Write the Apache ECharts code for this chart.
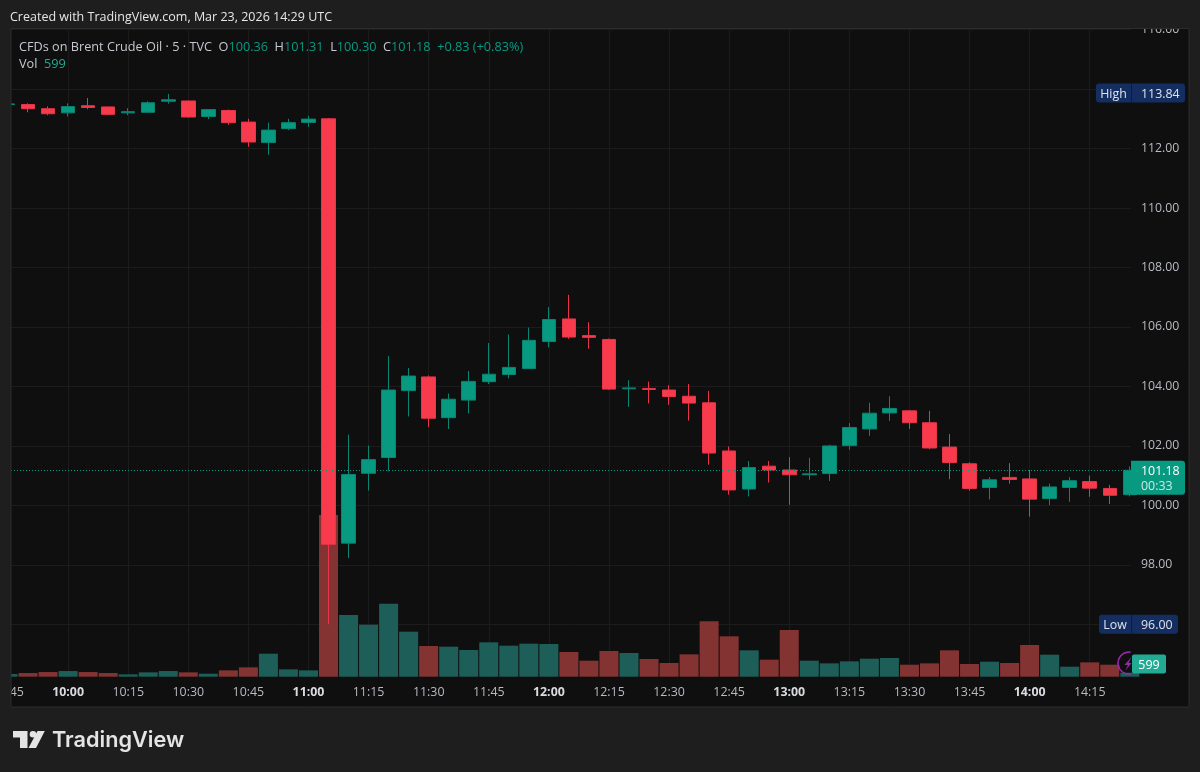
<!DOCTYPE html>
<html><head><meta charset="utf-8"><title>Brent</title>
<style>html,body{margin:0;padding:0;background:#1e1e1e}#c{width:1200px;height:772px}</style>
<script src="https://cdn.jsdelivr.net/npm/echarts@6/dist/echarts.min.js"></script></head>
<body><div id="c"></div><script>
const times=['09:45','09:50','09:55','10:00','10:05','10:10','10:15','10:20','10:25','10:30','10:35','10:40','10:45','10:50','10:55','11:00','11:05','11:10','11:15','11:20','11:25','11:30','11:35','11:40','11:45','11:50','11:55','12:00','12:05','12:10','12:15','12:20','12:25','12:30','12:35','12:40','12:45','12:50','12:55','13:00','13:05','13:10','13:15','13:20','13:25','13:30','13:35','13:40','13:45','13:50','13:55','14:00','14:05','14:10','14:15','14:20','14:25'];
const opens=[113.48,113.48,113.34,113.20,113.44,113.40,113.20,113.22,113.59,113.60,113.08,113.28,112.89,112.20,112.67,112.88,113.00,98.73,101.08,101.61,103.86,104.32,102.95,103.54,104.16,104.40,104.60,105.51,106.27,105.71,105.58,103.92,103.93,103.88,103.67,103.45,101.83,100.55,101.32,101.19,101.03,101.07,102.01,102.57,103.11,103.18,102.78,101.96,101.40,100.60,100.94,100.89,100.23,100.60,100.80,100.57,100.36];
const closes=[113.50,113.34,113.17,113.41,113.38,113.15,113.24,113.54,113.64,113.06,113.31,112.87,112.22,112.62,112.87,112.99,98.69,101.04,101.54,103.88,104.35,102.93,103.57,104.17,104.41,104.64,105.55,106.25,105.66,105.65,103.91,103.95,103.90,103.66,103.44,101.76,100.52,101.27,101.19,101.03,101.06,102.00,102.62,103.10,103.26,102.78,101.93,101.44,100.57,100.86,100.87,100.21,100.62,100.83,100.58,100.34,101.18];
const lows=[113.48,113.22,113.12,113.08,113.32,113.12,113.12,113.22,113.51,113.05,112.99,112.80,112.06,111.79,112.62,112.73,96.00,98.23,100.50,101.15,102.99,102.64,102.57,103.09,104.08,104.27,104.60,105.31,105.60,105.27,103.88,103.31,103.43,103.38,102.85,101.37,100.36,100.30,100.77,100.02,100.86,100.82,101.87,102.34,102.84,102.57,101.89,100.88,100.50,100.20,100.73,99.62,100.01,100.12,100.29,100.05,100.30];
const highs=[113.50,113.52,113.42,113.52,113.70,113.41,113.36,113.59,113.84,113.61,113.33,113.31,113.00,112.87,113.00,113.10,113.03,102.38,102.01,105.02,104.62,104.37,103.76,104.52,105.46,105.75,105.98,106.67,107.08,106.16,105.61,104.21,104.16,104.04,104.08,103.85,101.98,101.49,101.49,101.62,101.60,102.04,102.77,103.45,103.67,103.21,103.18,102.40,101.45,100.95,101.42,101.19,100.73,100.95,101.00,100.69,101.31];
const volumes=[400,550,700,850,700,550,350,650,850,650,450,950,1400,3450,1100,950,24250,9250,7800,10950,6750,4600,4500,4000,5150,4650,4950,4900,3700,2400,3850,3550,2650,2050,3350,8300,6050,3950,2550,7000,2400,2000,2300,2700,2800,1800,2000,3950,1900,2250,2050,4750,3300,1500,2150,1800,599];
const highMark=113.84, lowMark=96.00, lastPrice=101.18, countdown='00:33', lastVolume=599;
const title='Created with TradingView.com, Mar 23, 2026 14:29 UTC';
const symbolName='CFDs on Brent Crude Oil · 5 · TVC';
const changeText='+0.83 (+0.83%)';

const FONT='"Open Sans","Noto Sans",sans-serif';
const UP='#089981',DOWN='#F73B4C',VOLUP='#1d5f58',VOLDOWN='#843333',GRID='#1c1c1c',TXT='#b8bbc2';
const toMin=s=>{const[a,b]=s.split(':').map(Number);return a*60+b};
const pad=n=>String(n).padStart(2,'0');
const xs=times.map(toMin);
const candle=xs.map((x,i)=>[x,opens[i],closes[i],lows[i],highs[i]]);
const vols=xs.map((x,i)=>({value:[x,volumes[i]],itemStyle:{color:closes[i]>=opens[i]?VOLUP:VOLDOWN}}));
const xMin=585,xMax=865.3;
const el=document.getElementById('c');
const chart=echarts.init(el,null,{renderer:'canvas',width:1200,height:772});
const gridRect={left:8,right:69,outerBoundsMode:'none'};
chart.setOption({
 animation:false,backgroundColor:'#1e1e1e',textStyle:{fontFamily:FONT},
 grid:[{...gridRect,top:29.6,bottom:88.2},{...gridRect,top:29.6,bottom:95.3}],
 xAxis:[
  {type:'value',gridIndex:0,min:xMin,max:xMax,show:false,splitLine:{show:false},containShape:false},
  {type:'value',gridIndex:1,min:xMin,max:xMax,interval:15,z:1,containShape:false,
   axisLine:{show:false},axisTick:{show:false},
   splitLine:{show:true,showMinLine:false,showMaxLine:false,lineStyle:{color:GRID,width:1}},
   axisLabel:{showMaxLabel:false,showMinLabel:true,margin:10,fontSize:12.4,fontFamily:FONT,color:TXT,
    formatter:v=>{const h=Math.floor(v/60),m=v%60;return m===0?`{b|${pad(h)}:00}`:`${pad(h)}:${pad(Math.round(m))}`},
    rich:{b:{fontWeight:'bold',color:'#d9dbe0',fontSize:12.4,fontFamily:FONT}}}}
 ],
 yAxis:[
  {type:'value',gridIndex:0,position:'right',min:94,max:116,interval:2,z:1,
   axisLine:{show:false},axisTick:{show:false},
   splitLine:{show:true,showMinLine:false,lineStyle:{color:GRID,width:1}},
   axisLabel:{showMinLabel:false,margin:10,padding:[2,0,0,0],fontSize:12.3,fontFamily:FONT,color:TXT,formatter:v=>v.toFixed(2)}},
  {type:'value',gridIndex:1,min:0,max:97000,show:false,splitLine:{show:false}}
 ],
 series:[
  {type:'bar',name:'Vol',xAxisIndex:1,yAxisIndex:1,data:vols,barWidth:19,z:1,silent:true,clip:true},
  {type:'candlestick',name:'Brent',xAxisIndex:0,yAxisIndex:0,data:candle,barWidth:14,z:2,silent:true,clip:true,
   encode:{x:0,y:[1,2,3,4]},
   itemStyle:{color:UP,color0:DOWN,borderColor:'#0a8573',borderColor0:'#E8354A',borderWidth:1},
   markLine:{silent:true,symbol:'none',label:{show:false},animation:false,
    lineStyle:{type:[1,2],color:UP,width:1},data:[{yAxis:lastPrice}]}}
 ]
});
const py=v=>chart.convertToPixel({yAxisIndex:0},v);
const vy=v=>chart.convertToPixel({yAxisIndex:1},v);
const tag=(label,val,x0,x1,y)=>[
 {type:'rect',z:60,shape:{x:x0,y:y-9.5,width:x1-x0,height:19,r:3},style:{fill:'#142e61'}},
 {type:'rect',z:61,shape:{x:1131,y:y-9.5,width:1,height:19},style:{fill:'#0c1c3d'}},
 {type:'text',z:62,x:x0+(1131-x0)/2,y:y+1,style:{text:label,fill:'#dfe3ea',font:'12.4px '+FONT,align:'center',verticalAlign:'middle'}},
 {type:'text',z:62,x:1141,y:y+1,style:{text:val.toFixed(2),fill:'#dfe3ea',font:'12.4px '+FONT,align:'left',verticalAlign:'middle'}}];
const last=opens.length-1;
const lastY=py(lastPrice);
const volY=vy(lastVolume)-8.6;
chart.setOption({graphic:[
 {type:'rect',z:-10,silent:true,shape:{x:11,y:29,width:1178,height:678},style:{fill:'#0f0f0f'}},
 {type:'rect',z:50,shape:{x:0,y:0,width:1200,height:28.5},style:{fill:'#1e1e1e'}},
 {type:'rect',z:50,shape:{x:0,y:0,width:11,height:772},style:{fill:'#1e1e1e'}},
 {type:'rect',z:51,shape:{x:11,y:28.5,width:1178,height:678.5},style:{fill:'none',stroke:'#2c2c2c',lineWidth:1}},
 {type:'text',z:52,x:10,y:17.5,style:{text:title,fill:'#e6e6e6',font:'12.5px '+FONT,verticalAlign:'middle'}},
 {type:'text',z:52,x:19,y:47,style:{verticalAlign:'middle',font:'12.7px '+FONT,fill:'#c6c8ce',
   text:`${symbolName}  O{g|${opens[last].toFixed(2)}}  H{g|${highs[last].toFixed(2)}}  L{g|${lows[last].toFixed(2)}}  C{g|${closes[last].toFixed(2)}}  {g|${changeText}}`,
   rich:{g:{fill:UP,font:'12.7px '+FONT}}}},
 {type:'text',z:52,x:19,y:64,style:{verticalAlign:'middle',font:'12.7px '+FONT,fill:'#c6c8ce',text:`Vol  {g|${lastVolume}}`,rich:{g:{fill:'#22ab94',font:'12.7px '+FONT}}}},
 ...tag('High',highMark,1096,1185,py(highMark)-0.8),
 ...tag('Low',lowMark,1099,1178,py(lowMark)),
 {type:'rect',z:60,shape:{x:1131,y:lastY-9.5,width:54,height:34,r:[0,3,3,0]},style:{fill:UP}},
 {type:'text',z:62,x:1141,y:lastY+1,style:{text:lastPrice.toFixed(2),fill:'#ffffff',font:'12.4px '+FONT,verticalAlign:'middle'}},
 {type:'text',z:62,x:1141,y:lastY+16,style:{text:countdown,fill:'#cfe9e3',font:'12.4px '+FONT,verticalAlign:'middle'}},
 {type:'arc',z:55,shape:{cx:1129,cy:volY-1,r:11,startAngle:Math.PI*0.45,endAngle:Math.PI*1.55},style:{stroke:'#9c27b0',fill:'none',lineWidth:1.5}},
 {type:'polygon',z:55,shape:{points:[[1131.5,657],[1124.5,665],[1128,665],[1125,671],[1131.5,663],[1128.5,663]]},style:{fill:'#9c27b0'}},
 {type:'rect',z:60,shape:{x:1132,y:volY-9.5,width:34,height:19,r:2},style:{fill:'#22ab94'}},
 {type:'text',z:62,x:1149,y:volY+1,style:{text:String(lastVolume),fill:'#ffffff',font:'12.4px '+FONT,align:'center',verticalAlign:'middle'}},
 {type:'polygon',z:52,shape:{points:[[13,731],[27.5,731],[27.5,748],[20,748],[20,737.5],[13,737.5]]},style:{fill:'#e4e4e4'}},
 {type:'circle',z:52,shape:{cx:33,cy:734.2,r:3.3},style:{fill:'#e4e4e4'}},
 {type:'polygon',z:52,shape:{points:[[37.5,731],[44.8,731],[36,748],[28.5,748]]},style:{fill:'#e4e4e4'}},
 {type:'text',z:52,x:52,y:740.5,style:{text:'TradingView',fill:'#e4e4e4',font:'600 21.7px Inter,"Noto Sans",sans-serif',verticalAlign:'middle'}}
]});
</script></body></html>
